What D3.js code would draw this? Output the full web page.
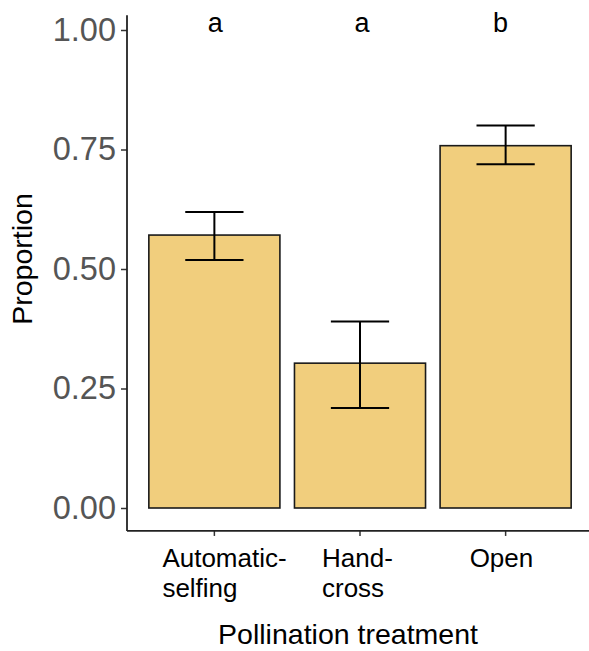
<!DOCTYPE html>
<html>
<head>
<meta charset="utf-8">
<script src="https://cdn.jsdelivr.net/npm/d3@7"></script>
<style>
  body { margin: 0; background: #fff; }
  text { font-family: "Liberation Sans", Arial, sans-serif; }
</style>
</head>
<body>
<svg id="main" width="589" height="651"></svg>
<script>
// data
const treatments = ["Automatic-selfing", "Hand-cross", "Open"];
const tickLines = [["Automatic-", "selfing"], ["Hand-", "cross"], ["Open"]];
const proportion = [0.571, 0.303, 0.758];
const errLow = [0.519, 0.209, 0.719];
const errHigh = [0.619, 0.390, 0.800];
const letters = ["a", "a", "b"];
const yTicks = [0, 0.25, 0.5, 0.75, 1];

const svg = d3.select("svg#main");

const x = d3.scaleBand()
    .domain(treatments)
    .range([127, 593])
    .paddingInner(0.1)
    .paddingOuter(0.15);

const y = d3.scaleLinear()
    .domain([0, 1])
    .range([508, 30]);

const yLo = -0.048, yHi = 1.031;

// bars
svg.append("g")
    .selectAll("rect")
    .data(treatments)
    .join("rect")
    .attr("x", d => x(d))
    .attr("y", (d, i) => y(proportion[i]))
    .attr("width", x.bandwidth())
    .attr("height", (d, i) => y(0) - y(proportion[i]))
    .attr("fill", "#F1CE7D")
    .attr("stroke", "#1a1a1a")
    .attr("stroke-width", 1.6);

// error bars
const capW = x.step() * 0.4;
const eb = svg.append("g")
    .selectAll("g")
    .data(treatments)
    .join("g")
    .attr("stroke", "#000")
    .attr("stroke-width", 2);
eb.append("line")
    .attr("x1", d => x(d) + x.bandwidth() / 2)
    .attr("x2", d => x(d) + x.bandwidth() / 2)
    .attr("y1", (d, i) => y(errLow[i]))
    .attr("y2", (d, i) => y(errHigh[i]));
eb.append("line")
    .attr("x1", d => x(d) + x.bandwidth() / 2 - capW / 2)
    .attr("x2", d => x(d) + x.bandwidth() / 2 + capW / 2)
    .attr("y1", (d, i) => y(errHigh[i]))
    .attr("y2", (d, i) => y(errHigh[i]));
eb.append("line")
    .attr("x1", d => x(d) + x.bandwidth() / 2 - capW / 2)
    .attr("x2", d => x(d) + x.bandwidth() / 2 + capW / 2)
    .attr("y1", (d, i) => y(errLow[i]))
    .attr("y2", (d, i) => y(errLow[i]));

// significance letters (small nudges as in the picture)
const letterDx = [1, 2, -5];
svg.append("g")
    .selectAll("text")
    .data(letters)
    .join("text")
    .attr("x", (d, i) => x(treatments[i]) + x.bandwidth() / 2 + letterDx[i])
    .attr("y", y(1) + 2)
    .attr("text-anchor", "middle")
    .attr("font-size", 27)
    .attr("fill", "#000")
    .text(d => d);

// y axis
const yAxis = svg.append("g")
    .attr("transform", "translate(127,0)")
    .call(d3.axisLeft(y).tickValues(yTicks).tickFormat(d3.format(".2f")).tickSize(6).tickPadding(5));
yAxis.select(".domain").remove();
yAxis.selectAll(".tick line").attr("stroke", "#333").attr("stroke-width", 1.5);
yAxis.selectAll(".tick text")
    .attr("font-size", 32.5)
    .attr("fill", "#555")
    .attr("font-family", "Liberation Sans, Arial, sans-serif");

svg.append("line")
    .attr("x1", 127).attr("x2", 127)
    .attr("y1", y(yHi)).attr("y2", y(yLo))
    .attr("stroke", "#222").attr("stroke-width", 1.8);

// x axis
const xAxis = svg.append("g")
    .attr("transform", `translate(0,${y(yLo)})`)
    .call(d3.axisBottom(x).tickSize(5).tickFormat(""));
xAxis.select(".domain").remove();
xAxis.selectAll(".tick line").attr("stroke", "#333").attr("stroke-width", 1.5);

svg.append("line")
    .attr("x1", 127).attr("x2", 593)
    .attr("y1", y(yLo)).attr("y2", y(yLo))
    .attr("stroke", "#222").attr("stroke-width", 1.8);

// x tick labels, lines left aligned inside each block
const labelDx = [-52, -38, -36];
const lab = svg.append("g")
    .selectAll("text")
    .data(treatments)
    .join("text")
    .attr("font-size", 26)
    .attr("fill", "#000")
    .attr("text-anchor", "start");
lab.selectAll("tspan")
    .data((d, i) => tickLines[i].map(t => ({t, i})))
    .join("tspan")
    .attr("x", d => x(treatments[d.i]) + x.bandwidth() / 2 + labelDx[d.i])
    .attr("y", (d, j) => 567 + j * 30)
    .text(d => d.t);

// axis titles
svg.append("text")
    .attr("x", 348)
    .attr("y", 644)
    .attr("text-anchor", "middle")
    .attr("font-size", 28.5)
    .attr("fill", "#000")
    .text("Pollination treatment");

svg.append("text")
    .attr("transform", "translate(32,259) rotate(-90)")
    .attr("text-anchor", "middle")
    .attr("font-size", 28.5)
    .attr("fill", "#000")
    .text("Proportion");
</script>
</body>
</html>
